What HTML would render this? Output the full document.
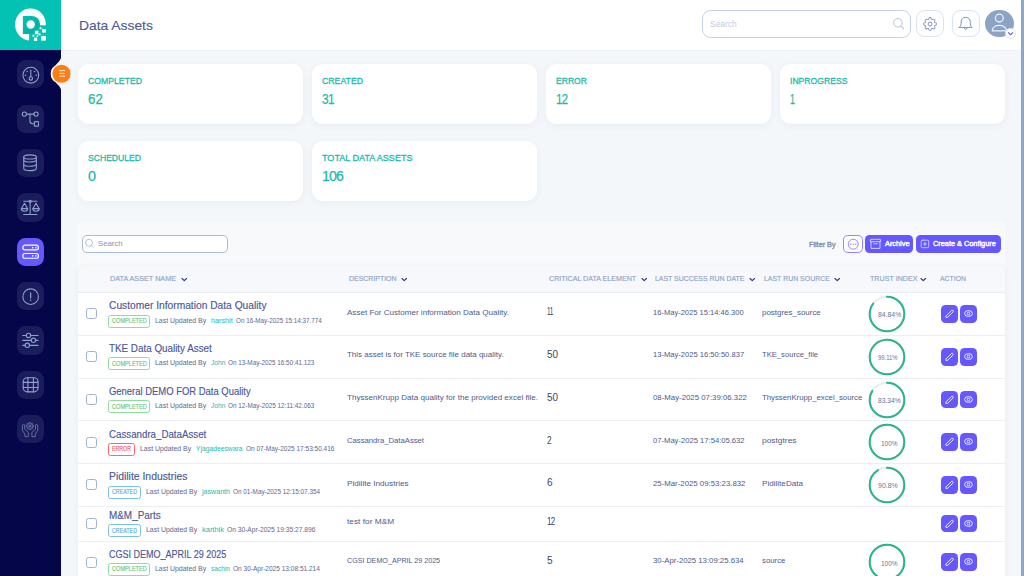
<!DOCTYPE html>
<html><head><meta charset="utf-8"><title>Data Assets</title>
<style>
html,body{margin:0;padding:0}
body{width:1024px;height:576px;overflow:hidden;position:relative;background:#f3f7fa;font-family:"Liberation Sans", sans-serif}
.t{position:absolute;white-space:pre;transform-origin:0 50%;font-family:"Liberation Sans", sans-serif}
.card{position:absolute;width:225.8px;height:60px;background:#fff;border-radius:11px;box-shadow:0 2px 7px rgba(40,60,110,0.05)}
.sb{position:absolute;left:16.8px;width:27.4px;height:28.3px;border-radius:8.5px;overflow:hidden}
.sb svg{position:absolute;left:0.05px;top:0.55px}
.ab{position:absolute;width:16.9px;height:17.8px;border-radius:4.6px;background:#6658ff;overflow:hidden}
.hb{position:absolute;top:10.3px;width:27.6px;height:27px;box-sizing:border-box;border:1px solid #d9e3f0;border-radius:8.5px;background:#fff}
</style></head><body>

<!-- header -->
<div style="position:absolute;left:61px;top:0;width:963px;height:50px;background:#fff;border-bottom:1px solid #eef1f5;box-sizing:content-box"></div>
<div style="position:absolute;left:702.3px;top:10.3px;width:208.3px;height:27.4px;box-sizing:border-box;border:1.2px solid #c6d3e6;border-radius:8.5px;background:#fff"></div>
<svg style="position:absolute;left:890px;top:15px" width="18" height="18" viewBox="0 0 18 18"><circle cx="7.9" cy="7.8" r="4.3" fill="none" stroke="#b7c6df" stroke-width="1"/><path d="M11 11 L13.6 13.6" stroke="#b7c6df" stroke-width="1.1" stroke-linecap="round"/></svg>
<div class="hb" style="left:916.2px"></div>
<svg style="position:absolute;left:922px;top:15.7px" width="16" height="16" viewBox="0 0 16 16"><circle cx="8.05" cy="8.05" r="1.95" fill="none" stroke="#7e93bb" stroke-width="1"/><path fill="#7e93bb" d="M9.796 1.343c-.527-1.79-3.065-1.79-3.592 0l-.094.319a.873.873 0 0 1-1.255.52l-.292-.16c-1.64-.892-3.433.902-2.54 2.541l.159.292a.873.873 0 0 1-.52 1.255l-.319.094c-1.79.527-1.79 3.065 0 3.592l.319.094a.873.873 0 0 1 .52 1.255l-.16.292c-.892 1.64.901 3.434 2.541 2.54l.292-.159a.873.873 0 0 1 1.255.52l.094.319c.527 1.79 3.065 1.79 3.592 0l.094-.319a.873.873 0 0 1 1.255-.52l.292.16c1.64.893 3.434-.902 2.54-2.541l-.159-.292a.873.873 0 0 1 .52-1.255l.319-.094c1.79-.527 1.79-3.065 0-3.592l-.319-.094a.873.873 0 0 1-.52-1.255l.16-.292c.893-1.64-.902-3.433-2.541-2.54l-.292.159a.873.873 0 0 1-1.255-.52l-.094-.319zm-2.633.283c.246-.835 1.428-.835 1.674 0l.094.319a1.873 1.873 0 0 0 2.693 1.115l.291-.16c.764-.415 1.6.42 1.184 1.185l-.159.292a1.873 1.873 0 0 0 1.116 2.692l.318.094c.835.246.835 1.428 0 1.674l-.319.094a1.873 1.873 0 0 0-1.115 2.693l.16.291c.415.764-.42 1.6-1.185 1.184l-.291-.159a1.873 1.873 0 0 0-2.693 1.116l-.094.318c-.246.835-1.428.835-1.674 0l-.094-.319a1.873 1.873 0 0 0-2.692-1.115l-.292.16c-.764.415-1.6-.42-1.184-1.185l.159-.291A1.873 1.873 0 0 0 1.945 8.93l-.319-.094c-.835-.246-.835-1.428 0-1.674l.319-.094A1.873 1.873 0 0 0 3.06 4.377l-.16-.292c-.415-.764.42-1.6 1.185-1.184l.292.159a1.873 1.873 0 0 0 2.692-1.115l.094-.319z" transform="translate(1.1 1.1) scale(0.87)"/></svg>
<div class="hb" style="left:952px"></div>
<svg style="position:absolute;left:957px;top:15px" width="18" height="18" viewBox="0 0 18 18" fill="none" stroke="#7e93bb" stroke-width="1" stroke-linecap="round" stroke-linejoin="round"><path d="M2.3 12.4 H15.1 C13.6 11 13.3 9.6 13.3 7.2 C13.3 3.9 11.3 2.3 8.7 2.3 C6.1 2.3 4.1 3.9 4.1 7.2 C4.1 9.6 3.8 11 2.3 12.4 Z"/><path d="M7.2 13.2 C7.4 14.8 10 14.8 10.2 13.2"/></svg>
<div style="position:absolute;left:985.1px;top:9.5px;width:28.8px;height:27.8px;border-radius:50%;background:#8ba3c4"></div>
<svg style="position:absolute;left:985.2px;top:9.3px" width="29" height="29" viewBox="0 0 29 29" fill="none" stroke="#eef2f8" stroke-width="1.3"><circle cx="14.3" cy="9.1" r="3.9"/><path d="M7.3 21.8 C7.3 14.6 21.4 14.6 21.4 21.8 Z" stroke-linejoin="round"/></svg>
<div style="position:absolute;left:1004.8px;top:27.7px;width:11.2px;height:11.2px;box-sizing:border-box;border-radius:50%;background:#fff;border:1px solid #dfe6f1"></div>
<svg style="position:absolute;left:1004.8px;top:27.7px" width="11.2" height="11.2" viewBox="0 0 11.2 11.2"><path d="M3.4 4.6 L5.6 6.7 L7.8 4.6" fill="none" stroke="#6a6cb4" stroke-width="1.2" stroke-linecap="round" stroke-linejoin="round"/></svg>

<!-- cards -->
<div class="card" style="left:77.55px;top:64px"></div><div class="card" style="left:311.55px;top:64px"></div><div class="card" style="left:545.55px;top:64px"></div><div class="card" style="left:779.55px;top:64px"></div>
<div class="card" style="left:77.55px;top:141px"></div><div class="card" style="left:311.55px;top:141px"></div>

<!-- panel -->
<div style="position:absolute;left:77.5px;top:222.4px;width:927.5px;height:360px;background:#f8f9fb"></div>
<div style="position:absolute;left:81.5px;top:235.2px;width:146.6px;height:17.4px;box-sizing:border-box;border:1px solid #a9bcd8;border-radius:5px;background:#fff"></div>
<svg style="position:absolute;left:84px;top:238.4px" width="11" height="11" viewBox="0 0 11 11"><circle cx="5" cy="4.8" r="3.5" fill="none" stroke="#a9bcd8" stroke-width="0.9"/><path d="M7.5 7.4 L9.6 9.5" stroke="#a9bcd8" stroke-width="0.9" stroke-linecap="round"/></svg>
<div style="position:absolute;left:843.2px;top:234.9px;width:19.6px;height:17.8px;box-sizing:border-box;border:1px solid #9288fb;border-radius:4.8px;background:#fcfcfe"></div>
<svg style="position:absolute;left:846.9px;top:238px" width="13" height="13" viewBox="0 0 13 13"><circle cx="6.25" cy="6.2" r="5" fill="none" stroke="#8d82fb" stroke-width="0.9"/><g fill="#8d82fb"><circle cx="3.85" cy="6.25" r="0.7"/><circle cx="6.25" cy="6.25" r="0.7"/><circle cx="8.65" cy="6.25" r="0.7"/></g></svg>
<div style="position:absolute;left:865.4px;top:234.9px;width:48px;height:17.7px;border-radius:4.5px;background:#6658ff"></div>
<svg style="position:absolute;left:868.6px;top:238px" width="13" height="12" viewBox="0 0 13 12" fill="none" stroke="#f1efff" stroke-width="0.8" stroke-linejoin="round"><rect x="1.35" y="1.3" width="10.3" height="2.4" rx="0.5"/><path d="M2.05 3.7 V10.4 H10.95 V3.7"/><path d="M4.9 5.75 H8.2" stroke-linecap="round"/></svg>
<div style="position:absolute;left:916px;top:234.9px;width:84.7px;height:17.7px;border-radius:4.5px;background:#6658ff"></div>
<svg style="position:absolute;left:919.6px;top:239px" width="10" height="10" viewBox="0 0 10 10" fill="none" stroke="#f1efff" stroke-width="0.7" stroke-linecap="round"><rect x="1.2" y="1.2" width="7.5" height="7.5" rx="1.1"/><path d="M4.95 3.4 V6.5 M3.4 4.95 H6.5"/></svg>

<!-- table -->
<div style="position:absolute;left:77.5px;top:265.8px;width:927.5px;height:320px;background:#fff;border-radius:9px 9px 0 0;box-shadow:0 0 6px rgba(40,60,110,0.05)"></div>
<div style="position:absolute;left:77.5px;top:265.8px;width:927.5px;height:27.5px;background:#f6f8fb;border-radius:9px 9px 0 0;border-bottom:1px solid #e9edf3;box-sizing:border-box"></div>
<svg style="position:absolute;left:180.60px;top:276.6px" width="7" height="6" viewBox="0 0 7 6"><path d="M1 1.5 L3.25 3.7 L5.5 1.5" fill="none" stroke="#2f3378" stroke-width="1.1" stroke-linecap="round" stroke-linejoin="round"/></svg><svg style="position:absolute;left:400.60px;top:276.6px" width="7" height="6" viewBox="0 0 7 6"><path d="M1 1.5 L3.25 3.7 L5.5 1.5" fill="none" stroke="#2f3378" stroke-width="1.1" stroke-linecap="round" stroke-linejoin="round"/></svg><svg style="position:absolute;left:640.60px;top:276.6px" width="7" height="6" viewBox="0 0 7 6"><path d="M1 1.5 L3.25 3.7 L5.5 1.5" fill="none" stroke="#2f3378" stroke-width="1.1" stroke-linecap="round" stroke-linejoin="round"/></svg><svg style="position:absolute;left:748.60px;top:276.6px" width="7" height="6" viewBox="0 0 7 6"><path d="M1 1.5 L3.25 3.7 L5.5 1.5" fill="none" stroke="#2f3378" stroke-width="1.1" stroke-linecap="round" stroke-linejoin="round"/></svg><svg style="position:absolute;left:833.50px;top:276.6px" width="7" height="6" viewBox="0 0 7 6"><path d="M1 1.5 L3.25 3.7 L5.5 1.5" fill="none" stroke="#2f3378" stroke-width="1.1" stroke-linecap="round" stroke-linejoin="round"/></svg><svg style="position:absolute;left:919.90px;top:276.6px" width="7" height="6" viewBox="0 0 7 6"><path d="M1 1.5 L3.25 3.7 L5.5 1.5" fill="none" stroke="#2f3378" stroke-width="1.1" stroke-linecap="round" stroke-linejoin="round"/></svg>
<div style="position:absolute;left:108px;top:314.60px;width:42px;height:13px;box-sizing:border-box;border:1px solid #8fdca3;border-radius:2.5px;background:#fff"></div><div style="position:absolute;left:85.6px;top:308.30px;width:11.2px;height:11.2px;box-sizing:border-box;border:1.3px solid #9fb3d2;border-radius:2.6px;background:#fff"></div><div style="position:absolute;left:77.5px;top:334.80px;width:927.5px;height:1px;background:#eceff4"></div><div class="ab" style="left:940.6px;top:305.00px;width:17.3px"><svg width="17" height="17.8" viewBox="0 0 17 17.8"><path d="M4.9 12.4 L5.1 10.8 L10.4 5.5 A1.06 1.06 0 0 1 11.9 7.0 L6.5 12.4 Z" fill="none" stroke="#fff" stroke-width="0.9" stroke-linejoin="round"/></svg></div><div class="ab" style="left:960.1px;top:305.00px;width:17.3px"><svg width="17" height="17.8" viewBox="0 0 17 17.8"><ellipse cx="8.5" cy="8.5" rx="3.9" ry="2.9" fill="none" stroke="#fff" stroke-width="0.85"/><circle cx="8.5" cy="8.5" r="1.3" fill="none" stroke="#fff" stroke-width="0.8"/></svg></div><svg style="position:absolute;left:867.30px;top:293.90px" width="40" height="40" viewBox="-20 -20 40 40"><circle r="17.3" fill="none" stroke="#ededed" stroke-width="2"/><circle r="17.3" fill="none" stroke="#2bb58d" stroke-width="2.05" stroke-linecap="round" stroke-dasharray="92.22 108.70" transform="rotate(-90)"/></svg><div style="position:absolute;left:108px;top:357.40px;width:42px;height:13px;box-sizing:border-box;border:1px solid #8fdca3;border-radius:2.5px;background:#fff"></div><div style="position:absolute;left:85.6px;top:351.10px;width:11.2px;height:11.2px;box-sizing:border-box;border:1.3px solid #9fb3d2;border-radius:2.6px;background:#fff"></div><div style="position:absolute;left:77.5px;top:377.60px;width:927.5px;height:1px;background:#eceff4"></div><div class="ab" style="left:940.6px;top:347.80px;width:17.3px"><svg width="17" height="17.8" viewBox="0 0 17 17.8"><path d="M4.9 12.4 L5.1 10.8 L10.4 5.5 A1.06 1.06 0 0 1 11.9 7.0 L6.5 12.4 Z" fill="none" stroke="#fff" stroke-width="0.9" stroke-linejoin="round"/></svg></div><div class="ab" style="left:960.1px;top:347.80px;width:17.3px"><svg width="17" height="17.8" viewBox="0 0 17 17.8"><ellipse cx="8.5" cy="8.5" rx="3.9" ry="2.9" fill="none" stroke="#fff" stroke-width="0.85"/><circle cx="8.5" cy="8.5" r="1.3" fill="none" stroke="#fff" stroke-width="0.8"/></svg></div><svg style="position:absolute;left:867.30px;top:336.70px" width="40" height="40" viewBox="-20 -20 40 40"><circle r="17.3" fill="none" stroke="#ededed" stroke-width="2"/><circle r="17.3" fill="none" stroke="#2bb58d" stroke-width="2.05" stroke-linecap="round" stroke-dasharray="107.73 108.70" transform="rotate(-90)"/></svg><div style="position:absolute;left:108px;top:400.20px;width:42px;height:13px;box-sizing:border-box;border:1px solid #8fdca3;border-radius:2.5px;background:#fff"></div><div style="position:absolute;left:85.6px;top:393.90px;width:11.2px;height:11.2px;box-sizing:border-box;border:1.3px solid #9fb3d2;border-radius:2.6px;background:#fff"></div><div style="position:absolute;left:77.5px;top:420.40px;width:927.5px;height:1px;background:#eceff4"></div><div class="ab" style="left:940.6px;top:390.60px;width:17.3px"><svg width="17" height="17.8" viewBox="0 0 17 17.8"><path d="M4.9 12.4 L5.1 10.8 L10.4 5.5 A1.06 1.06 0 0 1 11.9 7.0 L6.5 12.4 Z" fill="none" stroke="#fff" stroke-width="0.9" stroke-linejoin="round"/></svg></div><div class="ab" style="left:960.1px;top:390.60px;width:17.3px"><svg width="17" height="17.8" viewBox="0 0 17 17.8"><ellipse cx="8.5" cy="8.5" rx="3.9" ry="2.9" fill="none" stroke="#fff" stroke-width="0.85"/><circle cx="8.5" cy="8.5" r="1.3" fill="none" stroke="#fff" stroke-width="0.8"/></svg></div><svg style="position:absolute;left:867.30px;top:379.50px" width="40" height="40" viewBox="-20 -20 40 40"><circle r="17.3" fill="none" stroke="#ededed" stroke-width="2"/><circle r="17.3" fill="none" stroke="#2bb58d" stroke-width="2.05" stroke-linecap="round" stroke-dasharray="90.59 108.70" transform="rotate(-90)"/></svg><div style="position:absolute;left:108px;top:442.90px;width:26.9px;height:13px;box-sizing:border-box;border:1px solid #f46a6a;border-radius:2.5px;background:#fff"></div><div style="position:absolute;left:85.6px;top:436.60px;width:11.2px;height:11.2px;box-sizing:border-box;border:1.3px solid #9fb3d2;border-radius:2.6px;background:#fff"></div><div style="position:absolute;left:77.5px;top:463.10px;width:927.5px;height:1px;background:#eceff4"></div><div class="ab" style="left:940.6px;top:433.30px;width:17.3px"><svg width="17" height="17.8" viewBox="0 0 17 17.8"><path d="M4.9 12.4 L5.1 10.8 L10.4 5.5 A1.06 1.06 0 0 1 11.9 7.0 L6.5 12.4 Z" fill="none" stroke="#fff" stroke-width="0.9" stroke-linejoin="round"/></svg></div><div class="ab" style="left:960.1px;top:433.30px;width:17.3px"><svg width="17" height="17.8" viewBox="0 0 17 17.8"><ellipse cx="8.5" cy="8.5" rx="3.9" ry="2.9" fill="none" stroke="#fff" stroke-width="0.85"/><circle cx="8.5" cy="8.5" r="1.3" fill="none" stroke="#fff" stroke-width="0.8"/></svg></div><svg style="position:absolute;left:867.30px;top:422.20px" width="40" height="40" viewBox="-20 -20 40 40"><circle r="17.3" fill="none" stroke="#ededed" stroke-width="2"/><circle r="17.3" fill="none" stroke="#2bb58d" stroke-width="2.05" stroke-linecap="butt" stroke-dasharray="108.70 108.70" transform="rotate(-90)"/></svg><div style="position:absolute;left:108px;top:485.60px;width:33px;height:13px;box-sizing:border-box;border:1px solid #7cc0e6;border-radius:2.5px;background:#fff"></div><div style="position:absolute;left:85.6px;top:479.30px;width:11.2px;height:11.2px;box-sizing:border-box;border:1.3px solid #9fb3d2;border-radius:2.6px;background:#fff"></div><div style="position:absolute;left:77.5px;top:505.80px;width:927.5px;height:1px;background:#eceff4"></div><div class="ab" style="left:940.6px;top:476.00px;width:17.3px"><svg width="17" height="17.8" viewBox="0 0 17 17.8"><path d="M4.9 12.4 L5.1 10.8 L10.4 5.5 A1.06 1.06 0 0 1 11.9 7.0 L6.5 12.4 Z" fill="none" stroke="#fff" stroke-width="0.9" stroke-linejoin="round"/></svg></div><div class="ab" style="left:960.1px;top:476.00px;width:17.3px"><svg width="17" height="17.8" viewBox="0 0 17 17.8"><ellipse cx="8.5" cy="8.5" rx="3.9" ry="2.9" fill="none" stroke="#fff" stroke-width="0.85"/><circle cx="8.5" cy="8.5" r="1.3" fill="none" stroke="#fff" stroke-width="0.8"/></svg></div><svg style="position:absolute;left:867.30px;top:464.90px" width="40" height="40" viewBox="-20 -20 40 40"><circle r="17.3" fill="none" stroke="#ededed" stroke-width="2"/><circle r="17.3" fill="none" stroke="#2bb58d" stroke-width="2.05" stroke-linecap="round" stroke-dasharray="98.70 108.70" transform="rotate(-90)"/></svg><div style="position:absolute;left:108px;top:524.20px;width:33px;height:13px;box-sizing:border-box;border:1px solid #7cc0e6;border-radius:2.5px;background:#fff"></div><div style="position:absolute;left:85.6px;top:517.90px;width:11.2px;height:11.2px;box-sizing:border-box;border:1.3px solid #9fb3d2;border-radius:2.6px;background:#fff"></div><div style="position:absolute;left:77.5px;top:540.50px;width:927.5px;height:1px;background:#eceff4"></div><div class="ab" style="left:940.6px;top:514.60px;width:17.3px"><svg width="17" height="17.8" viewBox="0 0 17 17.8"><path d="M4.9 12.4 L5.1 10.8 L10.4 5.5 A1.06 1.06 0 0 1 11.9 7.0 L6.5 12.4 Z" fill="none" stroke="#fff" stroke-width="0.9" stroke-linejoin="round"/></svg></div><div class="ab" style="left:960.1px;top:514.60px;width:17.3px"><svg width="17" height="17.8" viewBox="0 0 17 17.8"><ellipse cx="8.5" cy="8.5" rx="3.9" ry="2.9" fill="none" stroke="#fff" stroke-width="0.85"/><circle cx="8.5" cy="8.5" r="1.3" fill="none" stroke="#fff" stroke-width="0.8"/></svg></div><div style="position:absolute;left:108px;top:563.00px;width:42px;height:13px;box-sizing:border-box;border:1px solid #8fdca3;border-radius:2.5px;background:#fff"></div><div style="position:absolute;left:85.6px;top:556.70px;width:11.2px;height:11.2px;box-sizing:border-box;border:1.3px solid #9fb3d2;border-radius:2.6px;background:#fff"></div><div style="position:absolute;left:77.5px;top:583.20px;width:927.5px;height:1px;background:#eceff4"></div><div class="ab" style="left:940.6px;top:553.40px;width:17.3px"><svg width="17" height="17.8" viewBox="0 0 17 17.8"><path d="M4.9 12.4 L5.1 10.8 L10.4 5.5 A1.06 1.06 0 0 1 11.9 7.0 L6.5 12.4 Z" fill="none" stroke="#fff" stroke-width="0.9" stroke-linejoin="round"/></svg></div><div class="ab" style="left:960.1px;top:553.40px;width:17.3px"><svg width="17" height="17.8" viewBox="0 0 17 17.8"><ellipse cx="8.5" cy="8.5" rx="3.9" ry="2.9" fill="none" stroke="#fff" stroke-width="0.85"/><circle cx="8.5" cy="8.5" r="1.3" fill="none" stroke="#fff" stroke-width="0.8"/></svg></div><svg style="position:absolute;left:867.30px;top:542.30px" width="40" height="40" viewBox="-20 -20 40 40"><circle r="17.3" fill="none" stroke="#ededed" stroke-width="2"/><circle r="17.3" fill="none" stroke="#2bb58d" stroke-width="2.05" stroke-linecap="butt" stroke-dasharray="108.70 108.70" transform="rotate(-90)"/></svg>

<!-- sidebar -->
<div style="position:absolute;left:0;top:0;width:61px;height:576px;background:#050549"></div>
<div style="position:absolute;left:0;top:0;width:61px;height:50px;background:#03c2b4"></div>
<svg style="position:absolute;left:0;top:0" width="61" height="50" viewBox="0 0 61 50">
 <defs><linearGradient id="lg" x1="0" y1="0" x2="1" y2="1"><stop offset="0" stop-color="#03c2b4"/><stop offset="1" stop-color="#00a99c"/></linearGradient></defs>
 <path d="M30.5 8.5 A15.4 16 0 0 0 29.3 40.45 L29.3 25.6 L45.86 25.6 A15.4 16 0 0 0 30.5 8.5 Z" fill="#fff"/>
 <path d="M22.9 15.9 H31.6 A8.4 8.4 0 0 1 40 24.3 V27 L33.5 33.9 H22.9 Z" fill="url(#lg)"/>
 <rect x="29.3" y="25.6" width="17.5" height="15.5" fill="#03c2b4"/>
 <path d="M29.3 25.6 H40 V27.2 L33.6 33.9 H29.3 Z" fill="#02b3a6"/>
 <circle cx="30.7" cy="24.5" r="4.2" fill="#fff"/>
 <g fill="#fff"><rect x="42.2" y="29" width="3.6" height="3.6"/><rect x="34.9" y="30.7" width="3.5" height="3.5"/><rect x="41.1" y="35.9" width="4.7" height="4.7"/><rect x="33.9" y="37.6" width="3.3" height="3.3"/><rect x="39.6" y="27.3" width="1.9" height="1.9"/><rect x="32.5" y="34.7" width="1.9" height="1.9"/><rect x="38.6" y="33.4" width="1.9" height="1.9"/><rect x="36.6" y="35.3" width="1.5" height="1.5"/></g>
</svg>
<div class="sb" style="top:60.2px;background:#1b1c5b"><svg width="28" height="28" viewBox="0 0 28 28" fill="none" stroke="#8e9fc9" stroke-width="1.1" stroke-linecap="round" stroke-linejoin="round"><circle cx="13.8" cy="14.2" r="7.9"/><path d="M13.8 9.2 V15.6"/><circle cx="13.8" cy="17.4" r="1.7"/><g fill="#8e9fc9" stroke="none"><circle cx="10.2" cy="10.6" r="0.75"/><circle cx="17.5" cy="10.6" r="0.75"/><circle cx="8.5" cy="14.3" r="0.75"/><circle cx="19.2" cy="14.3" r="0.75"/></g></svg></div><div class="sb" style="top:104.575px;background:#1b1c5b"><svg width="28" height="28" viewBox="0 0 28 28" fill="none" stroke="#8e9fc9" stroke-width="1.1" stroke-linecap="round" stroke-linejoin="round"><circle cx="7.4" cy="9.1" r="2.1"/><circle cx="19.05" cy="9.1" r="2.1"/><path d="M9.5 9.1 H16.95 M12.95 9.1 V16 Q12.95 18.7 15.6 18.7 H17.3"/><rect x="17.3" y="16.6" width="4.2" height="4.5" rx="0.7"/></svg></div><div class="sb" style="top:148.95px;background:#1b1c5b"><svg width="28" height="28" viewBox="0 0 28 28" fill="none" stroke="#8e9fc9" stroke-width="1.1" stroke-linecap="round" stroke-linejoin="round"><ellipse cx="13.05" cy="7.95" rx="6.3" ry="2.05"/><path d="M6.75 7.95 V19.6 C6.75 22.3 19.35 22.3 19.35 19.6 V7.95"/><path d="M6.75 10.9 C6.75 13.6 19.35 13.6 19.35 10.9"/><path d="M6.75 15.2 C6.75 17.9 19.35 17.9 19.35 15.2"/></svg></div><div class="sb" style="top:193.325px;background:#1b1c5b"><svg width="28" height="28" viewBox="0 0 28 28" fill="none" stroke="#8e9fc9" stroke-width="1.1" stroke-linecap="round" stroke-linejoin="round"><path d="M6.7 7.3 H19.9 M13.15 8.3 V20.5 M6.7 20.5 H19.9"/><circle cx="13.15" cy="7.3" r="1.1"/><path d="M7.5 9.2 L4.5 14.6 H10.5 Z"/><path d="M4.3 14.6 C4.3 18.1 10.7 18.1 10.7 14.6"/><path d="M19 9.2 L16 14.6 H22 Z"/><path d="M15.8 14.6 C15.8 18.1 22.2 18.1 22.2 14.6"/></svg></div><div class="sb" style="top:237.7px;background:#6658ff"><svg width="28" height="28" viewBox="0 0 28 28" fill="none" stroke="#ffffff" stroke-width="1.1" stroke-linecap="round" stroke-linejoin="round"><rect x="5.9" y="7.2" width="15.45" height="4.75" rx="2.1" stroke-width="1.2"/><rect x="5.9" y="15.5" width="15.45" height="4.75" rx="2.1" stroke-width="1.2"/><g fill="#fff" stroke="none"><rect x="15.1" y="8.9" width="1.3" height="1.5"/><rect x="18.3" y="8.9" width="1.3" height="1.5"/><rect x="15.1" y="17.1" width="1.3" height="1.5"/><rect x="18.3" y="17.1" width="1.3" height="1.5"/></g></svg></div><div class="sb" style="top:282.075px;background:#1b1c5b"><svg width="28" height="28" viewBox="0 0 28 28" fill="none" stroke="#8e9fc9" stroke-width="1.1" stroke-linecap="round" stroke-linejoin="round"><circle cx="13.65" cy="13.7" r="7.8"/><path d="M13.65 9.9 V15.1" stroke-width="1.25"/><circle cx="13.65" cy="17.3" r="0.75" fill="#8e9fc9" stroke="none"/></svg></div><div class="sb" style="top:326.45px;background:#1b1c5b"><svg width="28" height="28" viewBox="0 0 28 28" fill="none" stroke="#8e9fc9" stroke-width="1.1" stroke-linecap="round" stroke-linejoin="round"><path d="M5.7 8.45 H9.2 M13.8 8.45 H21.1 M5.7 13.35 H14.1 M18.7 13.35 H21.1 M5.7 18.35 H8 M12.6 18.35 H21.1"/><circle cx="11.5" cy="8.45" r="2.2"/><circle cx="16.4" cy="13.35" r="2.2"/><circle cx="10.3" cy="18.35" r="2.2"/></svg></div><div class="sb" style="top:370.825px;background:#1b1c5b"><svg width="28" height="28" viewBox="0 0 28 28" fill="none" stroke="#8e9fc9" stroke-width="1.1" stroke-linecap="round" stroke-linejoin="round"><rect x="6.2" y="6.7" width="14.85" height="14.15" rx="4"/><path d="M10.9 6.7 V20.85 M16.4 6.7 V20.85 M6.2 11.35 H21.05 M6.2 16.55 H21.05"/></svg></div><div class="sb" style="top:415.2px;background:#1b1c5b"><svg width="28" height="28" viewBox="0 0 28 28" fill="none" stroke="#6977a8" stroke-width="0.9" stroke-linecap="round" stroke-linejoin="round"><circle cx="12.9" cy="10.1" r="3.4"/><path d="M12.9 6.7 V13.5 M9.5 10.1 H16.3 M10.6 7.8 L15.2 12.4 M15.2 7.8 L10.6 12.4" stroke-width="0.6"/><path d="M5.7 8.8 Q6.7 8 7.7 8.8 V13.3 L11.3 16.4 V20.6 H7.9 V18 L5.7 15 Z"/><path d="M20.5 8.8 Q19.5 8 18.5 8.8 V13.3 L14.9 16.4 V20.6 H18.3 V18 L20.5 15 Z"/></svg></div>
<!-- notch + hamburger -->
<svg style="position:absolute;left:48px;top:52px" width="26" height="44" viewBox="48 52 26 44">
 <path d="M61.4 54.6 C61.4 60.3 58.6 61.7 55.9 64.9 A10.15 10.15 0 0 0 55.9 82.6 C58.6 85.8 61.4 87.2 61.4 92.9 Z" fill="#f3f7fa"/>
 <circle cx="61.5" cy="73.75" r="9.1" fill="#fd7e14"/>
 <path d="M59 70.6 H65 M59 73.4 H65 M59 76.2 H65" stroke="#ffe9d6" stroke-width="1"/>
</svg>

<!-- texts -->
<span class="t" style="left:79.10px;top:19.40px;font-size:13px;line-height:13px;color:#4d5b96;-webkit-text-stroke:0.12px #4d5b96;transform:scaleX(1.0652)">Data Assets</span><span class="t" style="left:709.70px;top:19.68px;font-size:9px;line-height:9px;color:#c3cde4;transform:scaleX(0.9393)">Search</span><span class="t" style="left:88.40px;top:76.37px;font-size:9.6px;line-height:9.6px;color:#1cb9ad;-webkit-text-stroke:0.3px #1cb9ad;transform:scaleX(0.9042)">COMPLETED</span><span class="t" style="left:88.40px;top:92.15px;font-size:14px;line-height:14px;color:#1cb9ad;-webkit-text-stroke:0.25px #1cb9ad;transform:scaleX(0.9501)">62</span><span class="t" style="left:322.40px;top:76.37px;font-size:9.6px;line-height:9.6px;color:#1cb9ad;-webkit-text-stroke:0.3px #1cb9ad;transform:scaleX(0.9083)">CREATED</span><span class="t" style="left:322.40px;top:92.15px;font-size:14px;line-height:14px;color:#1cb9ad;letter-spacing:-0.8px;-webkit-text-stroke:0.25px #1cb9ad;transform:scaleX(0.8455)">31</span><span class="t" style="left:556.40px;top:76.37px;font-size:9.6px;line-height:9.6px;color:#1cb9ad;-webkit-text-stroke:0.3px #1cb9ad;transform:scaleX(0.8945)">ERROR</span><span class="t" style="left:556.40px;top:92.15px;font-size:14px;line-height:14px;color:#1cb9ad;letter-spacing:-0.8px;-webkit-text-stroke:0.25px #1cb9ad;transform:scaleX(0.8117)">12</span><span class="t" style="left:790.40px;top:76.37px;font-size:9.6px;line-height:9.6px;color:#1cb9ad;-webkit-text-stroke:0.3px #1cb9ad;transform:scaleX(0.8987)">INPROGRESS</span><span class="t" style="left:790.40px;top:92.15px;font-size:14px;line-height:14px;color:#1cb9ad;-webkit-text-stroke:0.25px #1cb9ad;transform:scaleX(0.6413)">1</span><span class="t" style="left:88.40px;top:153.37px;font-size:9.6px;line-height:9.6px;color:#1cb9ad;-webkit-text-stroke:0.3px #1cb9ad;transform:scaleX(0.8955)">SCHEDULED</span><span class="t" style="left:88.40px;top:169.15px;font-size:14px;line-height:14px;color:#1cb9ad;-webkit-text-stroke:0.25px #1cb9ad;transform:scaleX(1.0261)">0</span><span class="t" style="left:322.40px;top:153.37px;font-size:9.6px;line-height:9.6px;color:#1cb9ad;-webkit-text-stroke:0.3px #1cb9ad;transform:scaleX(0.9430)">TOTAL DATA ASSETS</span><span class="t" style="left:322.40px;top:169.15px;font-size:14px;line-height:14px;color:#1cb9ad;letter-spacing:-0.8px;-webkit-text-stroke:0.25px #1cb9ad;transform:scaleX(1.0106)">106</span><span class="t" style="left:98.00px;top:240.03px;font-size:8px;line-height:8px;color:#8a93a8;transform:scaleX(0.9661)">Search</span><span class="t" style="left:808.70px;top:240.97px;font-size:7px;line-height:7px;color:#8690b0;-webkit-text-stroke:0.35px #8690b0;transform:scaleX(1.0323)">Filter By</span><span class="t" style="left:884.90px;top:239.63px;font-size:8px;line-height:8px;color:#ffffff;-webkit-text-stroke:0.45px #ffffff;transform:scaleX(0.9180)">Archive</span><span class="t" style="left:933.40px;top:239.63px;font-size:8px;line-height:8px;color:#ffffff;-webkit-text-stroke:0.45px #ffffff;transform:scaleX(0.9170)">Create &amp; Configure</span><span class="t" style="left:109.90px;top:275.23px;font-size:8px;line-height:8px;color:#8fa3c4;-webkit-text-stroke:0.15px #8fa3c4;transform:scaleX(0.9064)">DATA ASSET NAME</span><span class="t" style="left:349.00px;top:275.23px;font-size:8px;line-height:8px;color:#8fa3c4;-webkit-text-stroke:0.15px #8fa3c4;transform:scaleX(0.8688)">DESCRIPTION</span><span class="t" style="left:548.90px;top:275.23px;font-size:8px;line-height:8px;color:#8fa3c4;-webkit-text-stroke:0.15px #8fa3c4;transform:scaleX(0.8879)">CRITICAL DATA ELEMENT</span><span class="t" style="left:655.00px;top:275.23px;font-size:8px;line-height:8px;color:#8fa3c4;-webkit-text-stroke:0.15px #8fa3c4;transform:scaleX(0.8656)">LAST SUCCESS RUN DATE</span><span class="t" style="left:763.50px;top:275.23px;font-size:8px;line-height:8px;color:#8fa3c4;-webkit-text-stroke:0.15px #8fa3c4;transform:scaleX(0.8672)">LAST RUN SOURCE</span><span class="t" style="left:870.40px;top:275.23px;font-size:8px;line-height:8px;color:#8fa3c4;-webkit-text-stroke:0.15px #8fa3c4;transform:scaleX(0.8947)">TRUST INDEX</span><span class="t" style="left:940.00px;top:275.23px;font-size:8px;line-height:8px;color:#8fa3c4;-webkit-text-stroke:0.15px #8fa3c4;transform:scaleX(0.8599)">ACTION</span><span class="t" style="left:108.50px;top:300.03px;font-size:10.6px;line-height:10.6px;color:#4a5899;-webkit-text-stroke:0.15px #4a5899;transform:scaleX(0.9657)">Customer Information Data Quality</span><span class="t" style="left:112.00px;top:317.07px;font-size:7px;line-height:7px;color:#57c274;-webkit-text-stroke:0.1px #57c274;transform:scaleX(0.7989)">COMPLETED</span><span class="t" style="left:154.80px;top:316.65px;font-size:7.5px;line-height:7.5px;color:#5d6890;transform:scaleX(0.9233)">Last Updated By</span><span class="t" style="left:211.00px;top:316.65px;font-size:7.5px;line-height:7.5px;color:#1cb9ad;transform:scaleX(0.9638)">harshit</span><span class="t" style="left:236.00px;top:316.65px;font-size:7.5px;line-height:7.5px;color:#5d6890;transform:scaleX(0.8399)">On 16-May-2025 15:14:37.774</span><span class="t" style="left:347.40px;top:308.53px;font-size:8px;line-height:8px;color:#4d5b8c;transform:scaleX(1.0069)">Asset For Customer information Data Quality.</span><span class="t" style="left:547.20px;top:307.24px;font-size:10px;line-height:10px;color:#3d4468;letter-spacing:-0.7px;transform:scaleX(0.6505)">11</span><span class="t" style="left:653.30px;top:308.53px;font-size:8px;line-height:8px;color:#4d5b8c;transform:scaleX(0.9430)">16-May-2025 15:14:46.300</span><span class="t" style="left:761.70px;top:308.53px;font-size:8px;line-height:8px;color:#4d5b8c;transform:scaleX(0.9940)">postgres_source</span><span class="t" style="left:878.00px;top:311.47px;font-size:7px;line-height:7px;color:#6b7499;transform:scaleX(0.9811)">84.84%</span><span class="t" style="left:108.50px;top:343.03px;font-size:10.6px;line-height:10.6px;color:#4a5899;-webkit-text-stroke:0.15px #4a5899;transform:scaleX(0.9286)">TKE Data Quality Asset</span><span class="t" style="left:112.00px;top:359.87px;font-size:7px;line-height:7px;color:#57c274;-webkit-text-stroke:0.1px #57c274;transform:scaleX(0.7989)">COMPLETED</span><span class="t" style="left:154.80px;top:359.45px;font-size:7.5px;line-height:7.5px;color:#5d6890;transform:scaleX(0.9233)">Last Updated By</span><span class="t" style="left:211.00px;top:359.45px;font-size:7.5px;line-height:7.5px;color:#1cb9ad;transform:scaleX(0.8792)">John</span><span class="t" style="left:228.40px;top:359.45px;font-size:7.5px;line-height:7.5px;color:#5d6890;transform:scaleX(0.8448)">On 13-May-2025 16:50:41.123</span><span class="t" style="left:347.40px;top:351.33px;font-size:8px;line-height:8px;color:#4d5b8c;transform:scaleX(0.9968)">This asset is for TKE source file data quality.</span><span class="t" style="left:547.20px;top:350.04px;font-size:10px;line-height:10px;color:#3d4468;transform:scaleX(0.9888)">50</span><span class="t" style="left:653.30px;top:351.33px;font-size:8px;line-height:8px;color:#4d5b8c;transform:scaleX(0.9482)">13-May-2025 16:50:50.837</span><span class="t" style="left:761.70px;top:351.33px;font-size:8px;line-height:8px;color:#4d5b8c;transform:scaleX(0.9557)">TKE_source_file</span><span class="t" style="left:878.00px;top:354.27px;font-size:7px;line-height:7px;color:#6b7499;transform:scaleX(0.8436)">99.11%</span><span class="t" style="left:108.50px;top:385.83px;font-size:10.6px;line-height:10.6px;color:#4a5899;-webkit-text-stroke:0.15px #4a5899;transform:scaleX(0.8915)">General DEMO FOR Data Quality</span><span class="t" style="left:112.00px;top:402.67px;font-size:7px;line-height:7px;color:#57c274;-webkit-text-stroke:0.1px #57c274;transform:scaleX(0.7989)">COMPLETED</span><span class="t" style="left:154.80px;top:402.25px;font-size:7.5px;line-height:7.5px;color:#5d6890;transform:scaleX(0.9233)">Last Updated By</span><span class="t" style="left:211.00px;top:402.25px;font-size:7.5px;line-height:7.5px;color:#1cb9ad;transform:scaleX(0.8792)">John</span><span class="t" style="left:228.40px;top:402.25px;font-size:7.5px;line-height:7.5px;color:#5d6890;transform:scaleX(0.8493)">On 12-May-2025 12:11:42.063</span><span class="t" style="left:347.40px;top:394.13px;font-size:8px;line-height:8px;color:#4d5b8c;transform:scaleX(1.0082)">ThyssenKrupp Data quality for the provided excel file.</span><span class="t" style="left:547.20px;top:392.84px;font-size:10px;line-height:10px;color:#3d4468;transform:scaleX(0.9888)">50</span><span class="t" style="left:653.30px;top:394.13px;font-size:8px;line-height:8px;color:#4d5b8c;transform:scaleX(0.9773)">08-May-2025 07:39:06.322</span><span class="t" style="left:761.70px;top:394.13px;font-size:8px;line-height:8px;color:#4d5b8c;transform:scaleX(0.9722)">ThyssenKrupp_excel_source</span><span class="t" style="left:878.00px;top:397.07px;font-size:7px;line-height:7px;color:#6b7499;transform:scaleX(0.9600)">83.34%</span><span class="t" style="left:108.50px;top:428.63px;font-size:10.6px;line-height:10.6px;color:#4a5899;-webkit-text-stroke:0.15px #4a5899;transform:scaleX(0.9179)">Cassandra_DataAsset</span><span class="t" style="left:112.00px;top:445.37px;font-size:7px;line-height:7px;color:#ee4d4d;-webkit-text-stroke:0.1px #ee4d4d;transform:scaleX(0.7515)">ERROR</span><span class="t" style="left:139.70px;top:444.95px;font-size:7.5px;line-height:7.5px;color:#5d6890;transform:scaleX(0.9233)">Last Updated By</span><span class="t" style="left:195.90px;top:444.95px;font-size:7.5px;line-height:7.5px;color:#1cb9ad;transform:scaleX(0.8974)">Yjagadeeswara</span><span class="t" style="left:245.60px;top:444.95px;font-size:7.5px;line-height:7.5px;color:#5d6890;transform:scaleX(0.8653)">On 07-May-2025 17:53:50.416</span><span class="t" style="left:347.40px;top:436.83px;font-size:8px;line-height:8px;color:#4d5b8c;transform:scaleX(0.9619)">Cassandra_DataAsset</span><span class="t" style="left:547.20px;top:435.54px;font-size:10px;line-height:10px;color:#3d4468;transform:scaleX(0.8270)">2</span><span class="t" style="left:653.30px;top:436.83px;font-size:8px;line-height:8px;color:#4d5b8c;transform:scaleX(0.9534)">07-May-2025 17:54:05.632</span><span class="t" style="left:761.70px;top:436.83px;font-size:8px;line-height:8px;color:#4d5b8c;transform:scaleX(1.0484)">postgtres</span><span class="t" style="left:880.50px;top:439.77px;font-size:7px;line-height:7px;color:#6b7499;transform:scaleX(0.9215)">100%</span><span class="t" style="left:108.50px;top:471.03px;font-size:10.6px;line-height:10.6px;color:#4a5899;-webkit-text-stroke:0.15px #4a5899;transform:scaleX(0.9801)">Pidilite Industries</span><span class="t" style="left:112.00px;top:488.07px;font-size:7px;line-height:7px;color:#4aa6dc;-webkit-text-stroke:0.1px #4aa6dc;transform:scaleX(0.7590)">CREATED</span><span class="t" style="left:145.80px;top:487.65px;font-size:7.5px;line-height:7.5px;color:#5d6890;transform:scaleX(0.9233)">Last Updated By</span><span class="t" style="left:202.00px;top:487.65px;font-size:7.5px;line-height:7.5px;color:#1cb9ad;transform:scaleX(0.9456)">jaswanth</span><span class="t" style="left:233.40px;top:487.65px;font-size:7.5px;line-height:7.5px;color:#5d6890;transform:scaleX(0.8526)">On 01-May-2025 12:15:07.354</span><span class="t" style="left:347.40px;top:479.53px;font-size:8px;line-height:8px;color:#4d5b8c;transform:scaleX(1.0184)">Pidilite Industries</span><span class="t" style="left:547.20px;top:478.24px;font-size:10px;line-height:10px;color:#3d4468;transform:scaleX(1.0067)">6</span><span class="t" style="left:653.30px;top:479.53px;font-size:8px;line-height:8px;color:#4d5b8c;transform:scaleX(0.9754)">25-Mar-2025 09:53:23.832</span><span class="t" style="left:761.70px;top:479.53px;font-size:8px;line-height:8px;color:#4d5b8c;transform:scaleX(1.0131)">PidiliteData</span><span class="t" style="left:878.00px;top:482.47px;font-size:7px;line-height:7px;color:#6b7499;transform:scaleX(0.9970)">90.8%</span><span class="t" style="left:108.50px;top:510.03px;font-size:10.6px;line-height:10.6px;color:#4a5899;-webkit-text-stroke:0.15px #4a5899;transform:scaleX(0.9360)">M&amp;M_Parts</span><span class="t" style="left:112.00px;top:526.67px;font-size:7px;line-height:7px;color:#4aa6dc;-webkit-text-stroke:0.1px #4aa6dc;transform:scaleX(0.7590)">CREATED</span><span class="t" style="left:145.80px;top:526.25px;font-size:7.5px;line-height:7.5px;color:#5d6890;transform:scaleX(0.9233)">Last Updated By</span><span class="t" style="left:202.00px;top:526.25px;font-size:7.5px;line-height:7.5px;color:#1cb9ad;transform:scaleX(0.9958)">karthik</span><span class="t" style="left:227.00px;top:526.25px;font-size:7.5px;line-height:7.5px;color:#5d6890;transform:scaleX(0.8879)">On 30-Apr-2025 19:35:27.896</span><span class="t" style="left:347.40px;top:518.13px;font-size:8px;line-height:8px;color:#4d5b8c;transform:scaleX(1.0387)">test for M&amp;M</span><span class="t" style="left:547.20px;top:516.83px;font-size:10px;line-height:10px;color:#3d4468;letter-spacing:-0.7px;transform:scaleX(0.7954)">12</span><span class="t" style="left:108.50px;top:548.83px;font-size:10.6px;line-height:10.6px;color:#4a5899;-webkit-text-stroke:0.15px #4a5899;transform:scaleX(0.8501)">CGSI DEMO_APRIL 29 2025</span><span class="t" style="left:112.00px;top:565.47px;font-size:7px;line-height:7px;color:#57c274;-webkit-text-stroke:0.1px #57c274;transform:scaleX(0.7989)">COMPLETED</span><span class="t" style="left:154.80px;top:565.05px;font-size:7.5px;line-height:7.5px;color:#5d6890;transform:scaleX(0.9233)">Last Updated By</span><span class="t" style="left:211.00px;top:565.05px;font-size:7.5px;line-height:7.5px;color:#1cb9ad;transform:scaleX(0.8761)">sachin</span><span class="t" style="left:233.40px;top:565.05px;font-size:7.5px;line-height:7.5px;color:#5d6890;transform:scaleX(0.8719)">On 30-Apr-2025 13:08:51.214</span><span class="t" style="left:347.40px;top:556.93px;font-size:8px;line-height:8px;color:#4d5b8c;transform:scaleX(0.8934)">CGSI DEMO_APRIL 29 2025</span><span class="t" style="left:547.20px;top:555.63px;font-size:10px;line-height:10px;color:#3d4468;transform:scaleX(1.0067)">5</span><span class="t" style="left:653.30px;top:556.93px;font-size:8px;line-height:8px;color:#4d5b8c;transform:scaleX(0.9700)">30-Apr-2025 13:09:25.634</span><span class="t" style="left:761.70px;top:556.93px;font-size:8px;line-height:8px;color:#4d5b8c;transform:scaleX(0.9744)">source</span><span class="t" style="left:880.50px;top:559.87px;font-size:7px;line-height:7px;color:#6b7499;transform:scaleX(0.9215)">100%</span>

<!-- scrollbar -->
<div style="position:absolute;left:1020.5px;top:0;width:0.7px;height:576px;background:#fbfcfe"></div>
<div style="position:absolute;left:1021.1px;top:0;width:2.9px;height:576px;background:#8ea6c8"></div>
</body></html>
